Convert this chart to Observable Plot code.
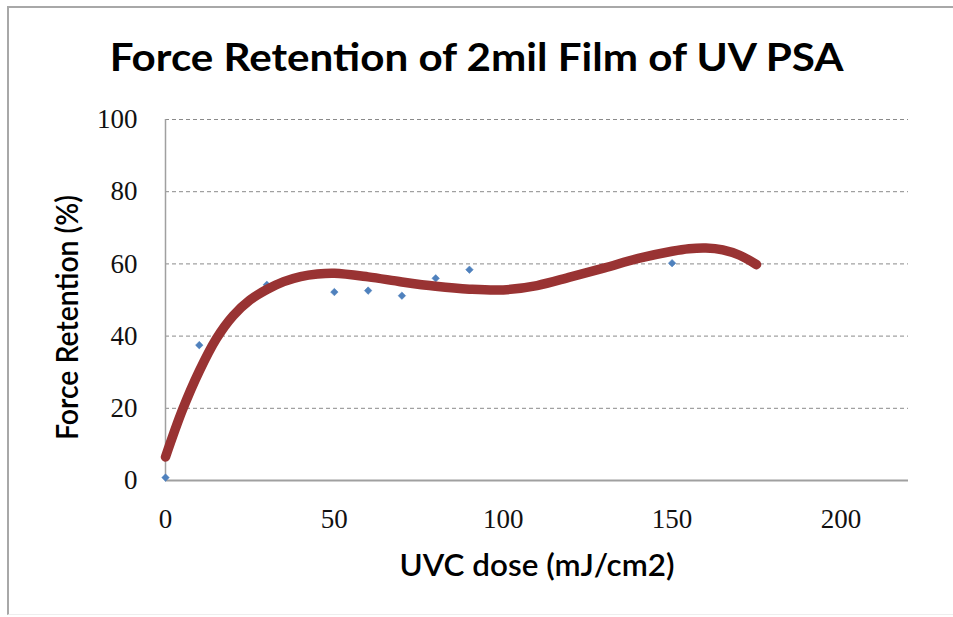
<!DOCTYPE html>
<html>
<head>
<meta charset="utf-8">
<script src="https://cdn.jsdelivr.net/npm/d3@7"></script>
<script src="https://cdn.jsdelivr.net/npm/@observablehq/plot@0.6"></script>
<style>
  html, body { margin: 0; padding: 0; background: #fff; width: 953px; height: 617px; overflow: hidden; }
  #frame { position: absolute; left: 7px; top: 6px; width: 980px; height: 606px;
           border-left: 2px solid #a8a8a8; border-top: 2px solid #a8a8a8; border-bottom: 1px solid #eeeeee; }
  #title { position: relative; height: 100px; box-sizing: border-box; padding-top: 37px;
           font-family: Lato, "Open Sans", sans-serif; font-weight: 700; font-size: 39px; line-height: 39px;
           text-align: center; color: #000; white-space: nowrap; }
  #title span { display: inline-block; transform-origin: center; }
  #chart { position: relative; }
</style>
</head>
<body>
<div id="frame"></div>
<div id="title"><span id="titletext">Force Retention of 2mil Film of UV PSA</span></div>
<div id="chart"></div>
<script>
// Measured data points (UVC dose, force retention %)
const doseValues = [0, 10, 30, 50, 60, 70, 80, 90, 150, 175];
const retentionValues = [0.8, 37.5, 54.2, 52.2, 52.6, 51.2, 56, 58.4, 60.2, 59.6];

// Trendline
const trendX = [0, 5, 10, 15, 20, 25, 30, 35, 40, 45, 50, 60, 70, 80, 90, 100, 110, 120, 130, 140, 150, 155, 160, 165, 170, 175];
const trendY = [6.5, 19.5, 30.3, 39.2, 45.6, 50, 52.9, 55.1, 56.5, 57.2, 57.4, 56.4, 55, 53.8, 53, 52.8, 54, 56.4, 58.9, 61.5, 63.5, 64.2, 64.4, 63.9, 62.4, 59.8];

const xTicks = [0, 50, 100, 150, 200];
const yTicks = [0, 20, 40, 60, 80, 100];
const gridTicks = [20, 40, 60, 80, 100];

const xLabel = "UVC dose (mJ/cm2)";
const yLabel = "Force Retention (%)";

const points = doseValues.map((d, i) => ({dose: d, retention: retentionValues[i]}));
const trend = trendX.map((d, i) => ({dose: d, retention: trendY[i]}));

const chart = Plot.plot({
  width: 953,
  height: 517,
  marginTop: 19,
  marginBottom: 137,
  marginLeft: 165,
  marginRight: 45,
  style: {background: "transparent", overflow: "visible"},
  x: {domain: [0, 220], ticks: xTicks, label: null},
  y: {domain: [0, 100], ticks: yTicks, label: null},
  marks: [
    Plot.gridY(gridTicks, {stroke: "#8a8a8a", strokeOpacity: 1, strokeWidth: 1, strokeDasharray: "4 3"}),
    Plot.ruleX([0], {stroke: "#a0a0a0", strokeWidth: 1.5}),
    Plot.ruleY([0], {stroke: "#a0a0a0", strokeWidth: 2}),
    Plot.axisX(xTicks, {tickSize: 0, tickPadding: 28, fontSize: 27, fontFamily: "Liberation Serif, serif", fill: "#111", label: null}),
    Plot.axisY(yTicks, {tickSize: 0, tickPadding: 28, fontSize: 27, fontFamily: "Liberation Serif, serif", fill: "#111", label: null}),
    Plot.dot(points, {x: "dose", y: "retention", symbol: "diamond2", r: 3.4, fill: "#4f81bd", stroke: "#4f81bd", strokeWidth: 0.5}),
    Plot.line(trend, {x: "dose", y: "retention", curve: "catmull-rom", stroke: "#993333", strokeWidth: 9.5, strokeLinecap: "round"}),
    Plot.text([xLabel], {frameAnchor: "bottom", dy: 86, text: d => d, fontSize: 30, fontWeight: 600,
      fontFamily: "Lato, sans-serif", fill: "#000", textAnchor: "middle", lineAnchor: "middle", className: "xlab"}),
    Plot.text([yLabel], {frameAnchor: "left", dx: -97, dy: 17.5, rotate: -90, text: d => d, fontSize: 30, fontWeight: 600,
      fontFamily: "Lato, sans-serif", fill: "#000", textAnchor: "middle", lineAnchor: "middle", className: "ylab"})
  ]
});
document.getElementById("chart").appendChild(chart);

// fit label lengths to the reference
chart.querySelectorAll(".xlab text").forEach(t => { t.setAttribute("textLength", 275); t.setAttribute("lengthAdjust", "spacingAndGlyphs"); });
chart.querySelectorAll(".ylab text").forEach(t => { t.setAttribute("textLength", 245); t.setAttribute("lengthAdjust", "spacingAndGlyphs"); });

// fit title width
const tt = document.getElementById("titletext");
const w = tt.getBoundingClientRect().width;
tt.style.transform = `scaleX(${734 / w})`;
</script>
</body>
</html>
